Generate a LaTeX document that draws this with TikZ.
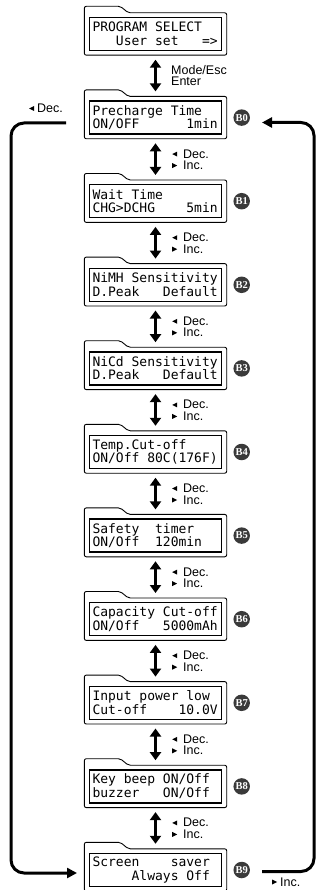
\documentclass[tikz,border=0pt]{standalone}
\usepackage{fontspec}
\usetikzlibrary{calc, arrows.meta}
\newfontfamily\lcdfont{DejaVu Sans Mono}
\newfontfamily\keyfont{Liberation Sans}
\newfontfamily\badgefont{Liberation Serif}
\definecolor{badgegray}{RGB}{58,58,58}
\newcommand{\decsym}{\tikz[baseline=0pt]\fill (0pt,4pt) -- (5pt,6.5pt) -- (5pt,1.5pt) -- cycle;}
\newcommand{\incsym}{\tikz[baseline=0pt]\fill (5pt,4pt) -- (0pt,6.5pt) -- (0pt,1.5pt) -- cycle;}
\newcommand{\lcdsp}{\spaceskip=0.602em\relax}
\newcommand{\keysize}{\keyfont\fontsize{12.5pt}{13pt}\selectfont}

\begin{document}
\begin{tikzpicture}[x=1pt,y=-1pt,
    lcd/.style={draw, line width=1.4pt, minimum width=132pt, minimum height=33pt,
      text width=126pt, inner sep=0pt, align=left, font=\lcdfont\fontsize{13}{13.5}\selectfont},
    scrframe/.style={line width=0.9pt, rounded corners=2pt},
    updown/.style={line width=2.6pt, {Triangle[length=8pt,width=11pt]}-{Triangle[length=8pt,width=11pt]},
      shorten <=8.5pt, shorten >=9pt},
    keylab/.style={inner sep=0pt, anchor=base west},
    badge/.style={circle, fill=badgegray, text=white, minimum size=16.5pt, inner sep=0pt,
      font=\badgefont\bfseries\fontsize{10.5}{10.5}\selectfont},
    loopline/.style={line width=3pt, rounded corners=13pt, -{Triangle[length=10pt,width=10pt]}}]
        \useasboundingbox (0,0) rectangle (320,890);
        %schermi
        \foreach \i/\la/\lb in {0/{PROGRAM SELECT}/{~~~User set~~~=>},
            1/{Precharge Time}/{ON/OFF~~~~~~1min},
            2/{Wait Time}/{CHG>DCHG~~~~5min},
            3/{NiMH Sensitivity}/{D.Peak~~~Default},
            4/{NiCd Sensitivity}/{D.Peak~~~Default},
            5/{Temp.Cut-off}/{ON/Off 80C(176F)},
            6/{Safety~~timer}/{ON/Off~~120min},
            7/{Capacity Cut-off}/{ON/Off~~~5000mAh},
            8/{Input power low}/{Cut-off~~~~10.0V},
            9/{Key beep ON/Off}/{buzzer~~~ON/Off},
            10/{Screen~~~~saver}/{~~~~~Always Off}} {
        \pgfmathsetmacro{\T}{13.5+83.6*\i}
        \node[lcd] (s\i) at (155.5,\T+20.5) {\lcdsp\la\\\lb};
        \draw[scrframe] ($(s\i.south west)+(-4.5,4)$) -- ($(s\i.north west)+(-4.5,-10.5)$)
          -- ++(36,0) -- ++(8,6.5) -| ($(s\i.south east)+(4.5,4)$) -- cycle;
        }
        %etichette B0..B9
        \foreach \i in {1,...,10} {
        \pgfmathtruncatemacro{\j}{\i-1}
        \node[badge] (b\j) at ([xshift=19.5pt]s\i.east) {B\j};
        }
        %frecce tra gli schermi
        \foreach \i in {0,...,9} {
        \pgfmathtruncatemacro{\n}{\i+1}
        \draw[updown] (s\i.south) -- (s\n.north);
        }
        \node[keylab] (mode) at (171,75) {\keysize Mode/Esc};
        \node[keylab] (enter) at (171,86) {\keysize Enter};
        \foreach \i in {1,...,9} {
        \pgfmathsetmacro{\T}{13.5+83.6*\i}
        \node[keylab] (dec\i) at (172,\T+61) {\keysize\decsym\hspace{6pt}Dec.};
        \node[keylab] (inc\i) at (172,\T+72.5) {\keysize\incsym\hspace{6pt}Inc.};
        }
        %anello a sinistra
        \coordinate (lstart) at (66,123);
        \coordinate (lend) at (77,873);
        \draw[loopline] (lstart) -- (11,123) -- (11,873) -- (lend);
        \node[keylab] (declab) at (29,112.5) {\keysize\decsym\hspace{3pt}Dec.};
        %anello a destra
        \coordinate (rstart) at (262,871.5);
        \coordinate (rend) at (262,122.5);
        \draw[loopline] (rstart) -- (314,871.5) -- (314,122.5) -- (rend);
        \node[keylab] (inclab) at (272,886) {\keysize\incsym\hspace{3pt}Inc.};
    \end{tikzpicture}
\end{document}
